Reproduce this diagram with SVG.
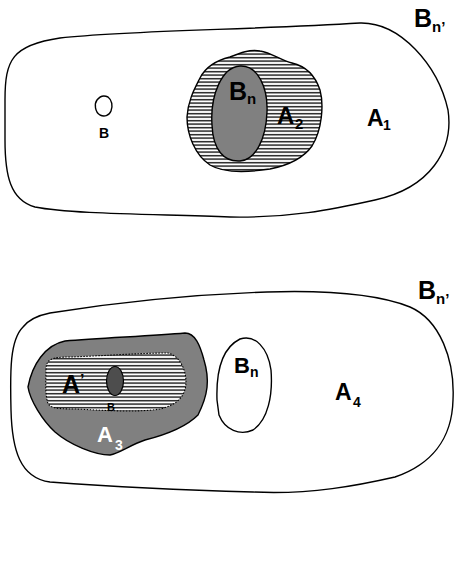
<svg xmlns="http://www.w3.org/2000/svg" width="457" height="584" viewBox="0 0 457 584">
<style>
.o{fill:#fff;stroke:#000;stroke-width:1.4}
.d{fill:#808080;stroke:#000;stroke-width:1.4}
.h{fill:url(#hatch);stroke:#000;stroke-width:1.4}
.t{font-family:"Liberation Sans",Arial,sans-serif;font-weight:bold;fill:#000}
.w{fill:#fff}
</style>
<defs>
<pattern id="hatch" patternUnits="userSpaceOnUse" width="10" height="3.5">
<rect width="10" height="3.5" fill="#fff"/>
<rect y="1" width="10" height="1.3" fill="#000"/>
</pattern>
</defs>
<rect width="457" height="584" fill="#fff"/>
<g id="top">
<g id="outer-top">
<path class="o" d="M 5,100 C 5,60 12,45 60,38 C 130,30 250,30 360,23 C 400,22 438,65 448,110 C 454,150 430,188 375,200 C 330,210 290,218 230,217 C 150,214 70,214 35,207 C 10,200 5,175 5,140 Z"/>
<text class="t" x="414" y="27" font-size="25">B<tspan x="432" y="32" font-size="15">n’</tspan></text>
<text class="t" x="367" y="126" font-size="23">A<tspan x="383" y="130" font-size="14">1</tspan></text>
</g>
<g id="B-top">
<path class="o" d="M 97,100 C 100,96 104,95 108,97 C 112,100 113,106 111,111 C 109,116 104,117 100,115 C 95,112 94,104 97,100 Z"/>
<text class="t" x="104" y="138" font-size="14" text-anchor="middle">B</text>
</g>
<g id="A2">
<path class="h" d="M 187,117 C 188,100 195,88 200,78 C 206,66 218,60 230,57 C 240,53 250,49 260,51 C 272,53 280,60 292,63 C 305,66 315,75 320,90 C 324,105 322,130 312,146 C 302,160 285,166 270,169 C 250,172 225,174 210,165 C 195,155 187,135 187,117 Z"/>
<text class="t" x="277" y="124" font-size="24">A<tspan x="295" y="129" font-size="15">2</tspan></text>
</g>
<g id="Bn-top">
<path class="d" d="M 212,125 C 210,95 222,67 240,66 C 258,65 268,88 267,112 C 266,140 255,160 240,161 C 224,162 213,150 212,125 Z"/>
<text class="t" x="229" y="100" font-size="25">B<tspan x="247" y="104" font-size="15">n</tspan></text>
</g>
</g>
<g id="bottom">
<g id="outer-bottom">
<path class="o" d="M 50,313 C 100,305 180,295 267,292 C 330,290 380,295 410,307 C 440,320 455,360 453,400 C 452,440 430,465 395,477 C 360,485 310,495 253,492 C 180,490 90,485 50,482 C 20,478 12,450 11,410 C 10,370 10,340 23,327 C 30,318 40,315 50,313 Z"/>
<text class="t" x="418" y="299" font-size="25">B<tspan x="436" y="304" font-size="15">n’</tspan></text>
<text class="t" x="335" y="400" font-size="23">A<tspan x="353" y="407" font-size="14">4</tspan></text>
</g>
<g id="Bn-bottom">
<path class="o" d="M 217,400 C 216,370 222,348 240,339 C 255,334 268,348 271,370 C 273,395 268,420 253,430 C 240,436 225,430 219,415 Z"/>
<text class="t" x="234" y="373" font-size="22">B<tspan x="250" y="377" font-size="14">n</tspan></text>
</g>
<g id="A3">
<path class="d" d="M 28,387 C 32,365 45,345 65,341 C 100,338 150,336 185,333 C 195,333 200,345 204,360 C 210,380 208,395 198,415 C 185,428 165,435 145,440 C 130,445 120,453 110,455 C 95,455 70,445 55,432 C 42,420 30,400 28,387 Z"/>
<text class="t w" x="97" y="442" font-size="22">A<tspan x="115" y="450" font-size="14">3</tspan></text>
</g>
<g id="A-prime">
<path fill="url(#hatch)" stroke="#000" stroke-width="1.1" stroke-dasharray="1.5,1.5" d="M 46,370 C 46,360 50,357 70,357 C 100,356 140,353 168,353 C 180,356 186,370 186,382 C 186,395 178,405 160,409 C 135,413 100,410 75,409 C 55,409 48,408 47,400 C 45,390 46,378 46,370 Z"/>
<text class="t" x="62" y="393" font-size="25">A<tspan x="80" y="386" font-size="16">’</tspan></text>
</g>
<g id="B-bottom">
<ellipse cx="115" cy="381" rx="8.5" ry="14.5" fill="#4d4d4d" stroke="#000" stroke-width="1.2"/>
<text class="t" x="111" y="411" font-size="11" text-anchor="middle">B</text>
</g>
</g>
<g id="connectors"/>
</svg>
